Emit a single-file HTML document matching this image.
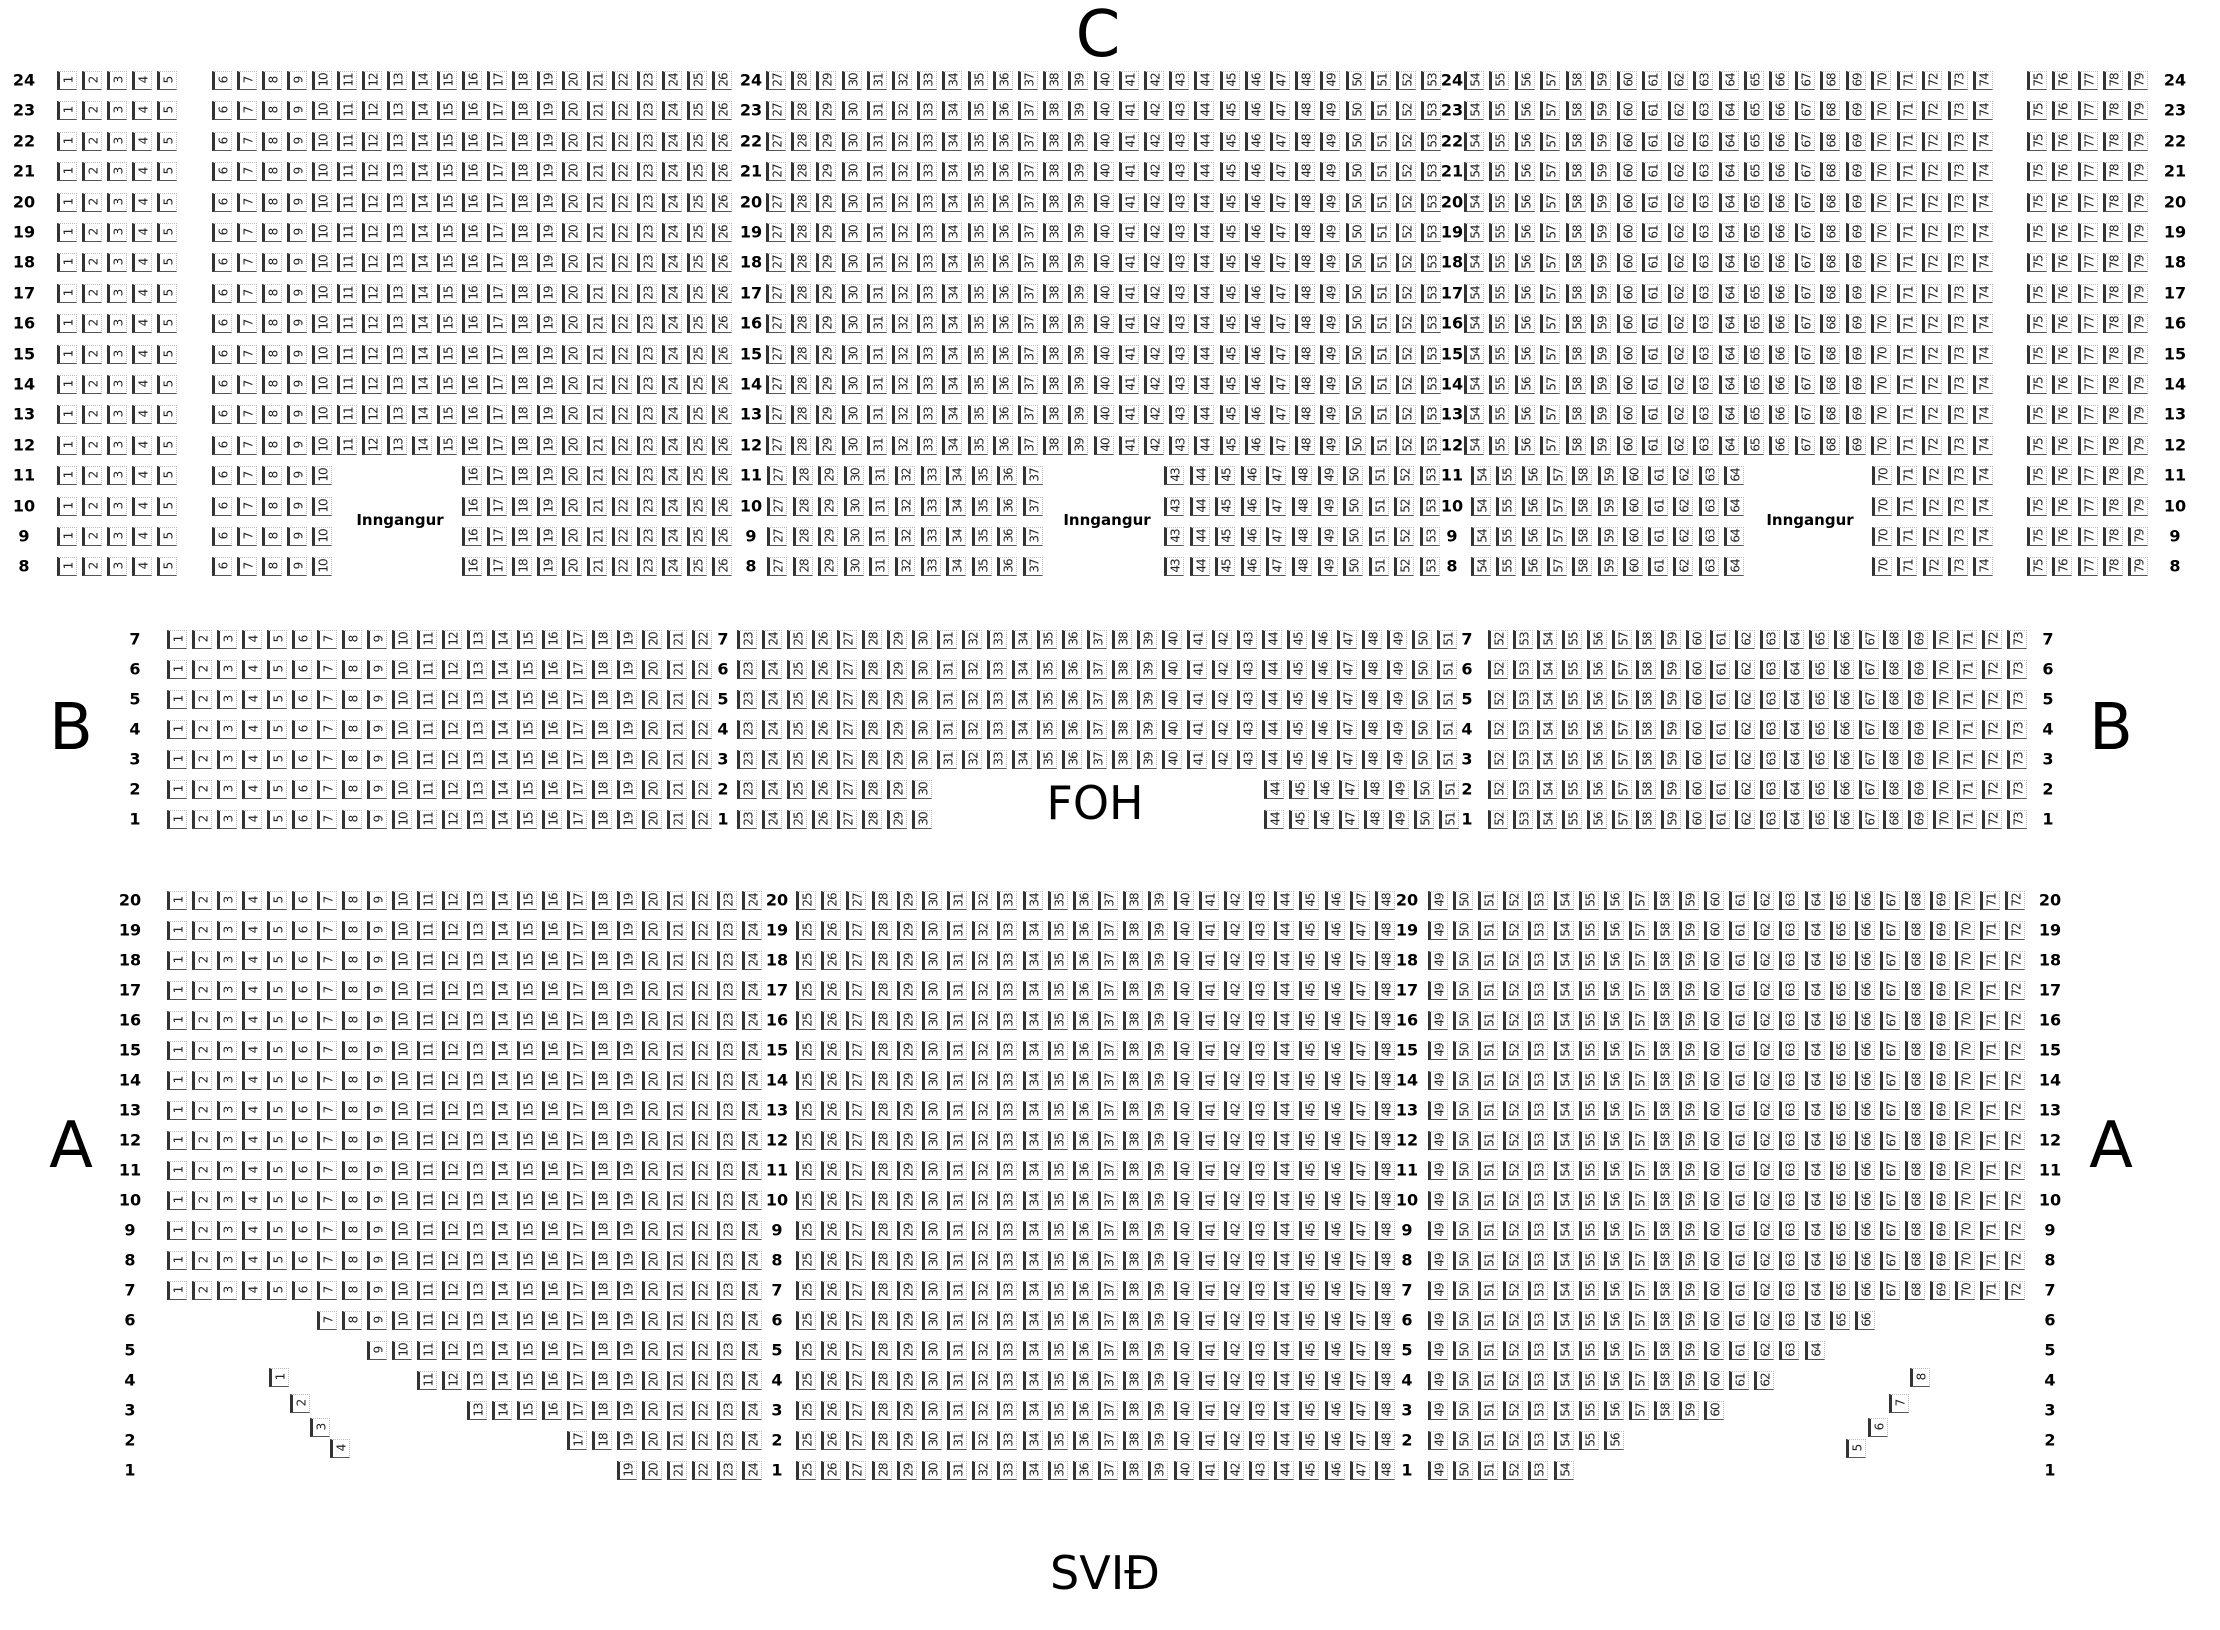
<!DOCTYPE html>
<html><head><meta charset="utf-8">
<style>
html,body{margin:0;padding:0;background:#fff;}
#c{position:relative;width:2220px;height:1630px;overflow:hidden;background:#fff;font-family:"DejaVu Sans","Liberation Sans",sans-serif;}
.s{position:absolute;width:16px;height:17px;border-left:3px solid #333;border-bottom:1px solid #555;border-top:1px dotted #bbb;border-right:1px dotted #bbb;box-sizing:content-box;}
.s span{position:absolute;left:0;top:0;width:17px;height:16px;line-height:16px;text-align:center;font-size:12px;letter-spacing:-1px;color:#222;transform:rotate(-90deg);}
.l{position:absolute;font-weight:bold;font-size:16px;color:#000;transform:translate(-50%,-50%);white-space:nowrap;}
.big{position:absolute;font-size:64px;color:#000;transform:translate(-50%,-50%);font-family:"DejaVu Sans",sans-serif;}
.ing{position:absolute;font-size:15px;font-weight:bold;transform:translate(-50%,-50%);}
</style></head><body>
<div id="c">
<div class="big" style="left:1098px;top:35px">C</div>
<div class="big" style="left:71px;top:728px">B</div>
<div class="big" style="left:2111px;top:728px">B</div>
<div class="big" style="left:71px;top:1146px">A</div>
<div class="big" style="left:2111px;top:1146px">A</div>
<div class="big" style="left:1095px;top:803px;font-size:46px">FOH</div>
<div class="big" style="left:1105px;top:1573px;font-size:46px">SVIÐ</div>
<div class="ing" style="left:400px;top:520px">Inngangur</div>
<div class="ing" style="left:1107px;top:520px">Inngangur</div>
<div class="ing" style="left:1810px;top:520px">Inngangur</div>
</div>
<script>
var c=document.getElementById('c');var h='';
function seat(x,y,n){h+='<div class="s" style="left:'+Math.round(x)+'px;top:'+Math.round(y-9)+'px"><span>'+n+'</span></div>';}
function block(x0,y,a,b,p){for(var i=a;i<=b;i++)seat(x0+(i-a)*p,y,i);}
function lab(x,y,t){h+='<div class="l" style="left:'+x+'px;top:'+Math.round(y)+'px">'+t+'</div>';}
for(var r=24;r>=8;r--){var y=80+(24-r)*30.4;
 [24,751,1452,2175].forEach(function(x){lab(x,y,r);});
 block(57,y,1,5,25);
 if(r>=12){block(212,y,6,26,25);block(766,y,27,53,25.2);block(1464,y,54,74,25.45);block(2027,y,75,79,25.25);}
 else{block(212,y,6,10,25);block(462,y,16,26,25);block(767,y,27,37,25.6);block(1164,y,43,53,25.6);block(1471,y,54,64,25.3);block(1872,y,70,74,25.25);block(2027,y,75,79,25.25);}
}
for(var r=7;r>=1;r--){var y=639+(7-r)*30;
 [135,723,1467,2048].forEach(function(x){lab(x,y,r);});
 block(167,y,1,22,25);
 if(r>=3)block(737,y,23,51,25);else{block(737,y,23,30,25);block(1264,y,44,51,25);}
 block(1488,y,52,73,24.7);
}
var sl={6:7,5:9,4:11,3:13,2:17,1:19},rc={6:18,5:16,4:14,3:12,2:8,1:6};
for(var r=20;r>=1;r--){var y=900+(20-r)*30;
 [130,777,1407,2050].forEach(function(x){lab(x,y,r);});
 if(r>=7){block(167,y,1,24,25);block(1428,y,49,72,25.1);}
 else{var s=sl[r];block(167+(s-1)*25,y,s,24,25);block(1428,y,49,48+rc[r],25.1);}
 block(796,y,25,48,25.17);
}
seat(269,1377,1);seat(290,1403,2);seat(310,1427,3);seat(330,1448,4);
seat(1846,1448,5);seat(1868,1427,6);seat(1889,1403,7);seat(1910,1377,8);
c.insertAdjacentHTML('beforeend',h);
</script>
</body></html>
